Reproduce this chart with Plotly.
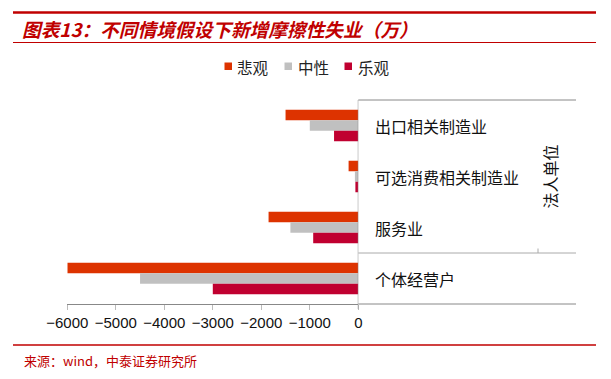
import plotly.graph_objects as go

# page offset caused by default HTML body margin
OFF = 8
W, H = 611 - 2 * OFF, 379 - 2 * OFF

categories = ["出口相关制造业", "可选消费相关制造业", "服务业", "个体经营户"]
series_names = ["悲观", "中性", "乐观"]
pessimistic = [-1500, -200, -1850, -6000]
neutral = [-1000, -70, -1400, -4500]
optimistic = [-500, -60, -930, -3000]
tick_vals = [-6000, -5000, -4000, -3000, -2000, -1000, 0]
group_label = "法人单位"
title_text = "图表13：不同情境假设下新增摩擦性失业（万）"
source_text = "来源：wind，中泰证券研究所"

colors = ["#DD3300", "#C0C0C0", "#C00030"]


def px_x(v):
    return (v - OFF) / W


def px_y(v):
    return 1 - (v - OFF) / H


fig = go.Figure()
for name, vals, c in zip(series_names, [pessimistic, neutral, optimistic], colors):
    fig.add_trace(go.Bar(
        y=categories, x=vals, name=name, orientation="h",
        marker=dict(color=c, line=dict(width=0)),
    ))

x0p, x1p = px_x(67.3), px_x(358.3)
yb, yt = px_y(304), px_y(100)
xr = px_x(576)

CJK = "Noto Sans CJK SC"

fig.update_layout(
    width=W, height=H,
    margin=dict(l=0, r=0, t=0, b=0, pad=0),
    paper_bgcolor="white", plot_bgcolor="white",
    barmode="group", bargap=0.38, bargroupgap=0,
    showlegend=False,
    xaxis=dict(domain=[x0p, x1p], range=[-6000, 0], tickvals=tick_vals, automargin=False,
               showgrid=False, zeroline=False, showline=True, linecolor="#888", linewidth=1,
               ticks="outside", ticklen=5, tickcolor="#BBB",
               tickfont=dict(family="Liberation Sans", size=15, color="#111")),
    yaxis=dict(domain=[yb, yt], categoryorder="array", categoryarray=categories,
               autorange="reversed", showticklabels=False, showgrid=False, automargin=False,
               zeroline=False, showline=False, ticks=""),
)

shapes = [
    # vertical axis at zero
    dict(type="line", xref="x", yref="paper", x0=0, x1=0, y0=px_y(309), y1=yt,
         line=dict(color="#888", width=1)),
    # top frame line
    dict(type="line", xref="paper", yref="paper", x0=x1p, x1=xr, y0=yt, y1=yt,
         line=dict(color="#888", width=1)),
    # bottom extension
    dict(type="line", xref="paper", yref="paper", x0=x1p, x1=xr, y0=yb, y1=yb,
         line=dict(color="#888", width=1)),
    # divider between groups
    dict(type="line", xref="paper", yref="y", x0=x1p, x1=xr, y0=2.5, y1=2.5,
         line=dict(color="#AAA", width=1)),
    dict(type="line", xref="paper", yref="paper", x0=px_x(538), x1=px_x(538), y0=px_y(248.5), y1=px_y(253),
         line=dict(color="#AAA", width=1)),
    # red rules
    dict(type="line", xref="paper", yref="paper", x0=px_x(13), x1=px_x(596), y0=px_y(12.5), y1=px_y(12.5),
         line=dict(color="#C00000", width=2.5)),
    dict(type="line", xref="paper", yref="paper", x0=px_x(13), x1=px_x(596), y0=px_y(42.5), y1=px_y(42.5),
         line=dict(color="#C00000", width=1.2)),
    dict(type="line", xref="paper", yref="paper", x0=px_x(13), x1=px_x(596), y0=px_y(345), y1=px_y(345),
         line=dict(color="#C00000", width=1.5)),
]

annotations = []
# legend drawn manually to match the tight spacing of the original
leg_sq_x = [224.5, 284.5, 344.5]
for name, c, sx in zip(series_names, colors, leg_sq_x):
    shapes.append(dict(type="rect", xref="paper", yref="paper",
                       x0=px_x(sx), x1=px_x(sx + 7.5), y0=px_y(62.5), y1=px_y(70),
                       fillcolor=c, line=dict(width=0)))
    annotations.append(dict(text=name, xref="paper", yref="paper", x=px_x(sx + 11), y=px_y(66.5),
                            xanchor="left", yanchor="middle", showarrow=False,
                            font=dict(family=CJK, size=15.5, color="#222")))

fig.update_layout(shapes=shapes)

for cat in categories:
    annotations.append(dict(text=cat, xref="paper", yref="y", x=px_x(373), y=cat,
                            xanchor="left", yanchor="middle", showarrow=False,
                            font=dict(family=CJK, size=16, color="#111")))
annotations.append(dict(text=group_label, xref="paper", yref="y", x=px_x(549), y=1.0,
                        xanchor="center", yanchor="middle", showarrow=False, textangle=-90,
                        font=dict(family=CJK, size=16, color="#111")))
annotations.append(dict(text="<b><i>" + title_text + "</i></b>", xref="paper", yref="paper",
                        x=px_x(20), y=px_y(28.5), xanchor="left", yanchor="middle", showarrow=False,
                        font=dict(family=CJK, size=18.7, color="#C00000")))
annotations.append(dict(text=source_text, xref="paper", yref="paper",
                        x=px_x(22), y=px_y(360), xanchor="left", yanchor="middle", showarrow=False,
                        font=dict(family=CJK, size=13, color="#C00000")))
fig.update_layout(annotations=annotations)

fig.write_html("out.html")
